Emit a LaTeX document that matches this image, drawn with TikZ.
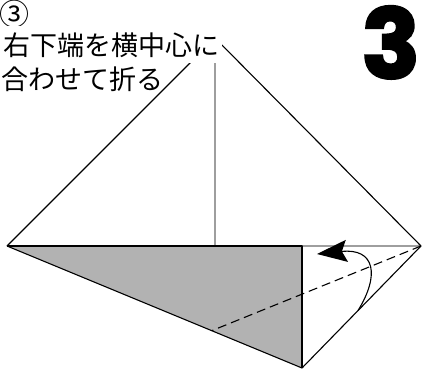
\documentclass[tikz,border=0pt]{standalone}
\usepackage{fontspec}
\newfontfamily\jp{Noto Sans CJK JP}
\newfontfamily\bignum{Poppins}[BoldFeatures={FakeBold=3}]
\usetikzlibrary{arrows.meta,calc}
\begin{document}
\begin{tikzpicture}[x=1pt,y=-1pt,
  edge/.style={line width=1.1pt,black,line join=round},
  crease/.style={line width=1.2pt,black!38},
  foldline/.style={line width=1.1pt,black,dash pattern=on 9pt off 5pt},
  flap/.style={fill=black!30},
  foldarrow/.style={line width=1.1pt,-{Stealth[length=30pt,width=22pt,inset=5pt]}},
  jptext/.style={font=\jp\fontsize{27}{30}\selectfont,inner sep=0pt,anchor=base west}]
\useasboundingbox (0,0) rectangle (423,370);
% points
\coordinate (T) at (215,38);
\coordinate (L) at (7,246);
\coordinate (R) at (421,246);
\coordinate (C) at (302,246);
\coordinate (M) at (215,246);
\coordinate (B) at (302,368);
\coordinate (D) at ($(L)!0.694!(B)$);
\coordinate (S) at ($(R)!0.53!(B)$);
\coordinate (E) at (317,254);
% flap
\fill[flap] (L) -- (C) -- (B) -- cycle;
% creases
\draw[crease] (T) -- (M);
\draw[crease] (C) -- (R);
% edges
\draw[edge] (L) -- (T) -- (R) -- (B) -- (L);
\draw[edge] (L) -- (C) -- (B);
% fold line
\draw[foldline] (R) -- (D);
% arrow
\draw[foldarrow] (S) .. controls (380,275) and (375,248) .. (E);
% texts
\node[font=\jp\fontsize{30}{32}\selectfont,inner sep=0pt,anchor=base west] (num) at (-1,25) {③};
\node[jptext,fill=white,inner xsep=3pt,inner ysep=6pt] (t1) at (0,55) {右下端を横中心に};
\node[jptext] (t2) at (1,89) {合わせて折る};
\node[font=\bignum\bfseries\fontsize{96}{96}\selectfont,inner sep=0pt,anchor=base east] (big) at (420,78) {3};
\end{tikzpicture}
\end{document}
